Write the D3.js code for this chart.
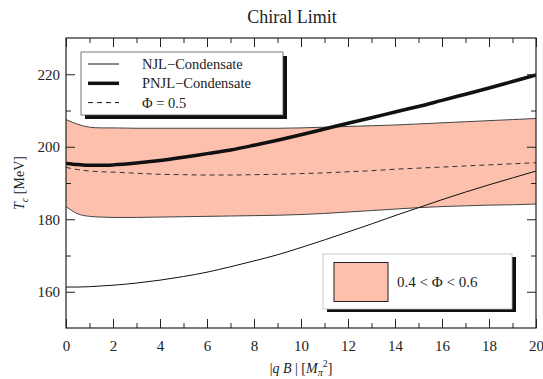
<!DOCTYPE html>
<html>
<head>
<meta charset="utf-8">
<title>Chiral Limit</title>
<script src="https://cdn.jsdelivr.net/npm/d3@7"></script>
<style>
  body { margin: 0; background: #fff; }
  svg text { font-family: "Liberation Serif", "DejaVu Serif", serif !important; fill: #222; }
</style>
</head>
<body>
<div id="chart"></div>
<script>
// |qB| sample points in units of M_pi^2
var qB = [0, 0.5, 1, 1.5, 2, 3, 4, 5, 6, 7, 8, 9, 10, 11, 12, 13, 14, 15, 16, 17, 18, 19, 20];

var njl  = [161.3, 161.3, 161.4, 161.6, 161.8, 162.4, 163.2, 164.2, 165.4, 166.9, 168.5, 170.2, 172.2, 174.3, 176.5, 178.7, 181.0, 183.2, 185.4, 187.5, 189.5, 191.4, 193.3];
var pnjl = [195.4, 195.1, 194.9, 194.9, 195.0, 195.5, 196.2, 197.1, 198.1, 199.1, 200.4, 201.8, 203.3, 204.9, 206.5, 208.0, 209.6, 211.1, 212.8, 214.5, 216.2, 218.0, 219.8];
var phiMid = [194.3, 193.7, 193.3, 193.1, 193.0, 192.7, 192.4, 192.3, 192.2, 192.2, 192.3, 192.4, 192.6, 192.8, 193.1, 193.4, 193.8, 194.1, 194.4, 194.7, 195.0, 195.3, 195.6];
var bandHi = [207.5, 206.2, 205.4, 205.2, 205.2, 205.1, 205.1, 205.1, 205.1, 205.1, 205.1, 205.1, 205.2, 205.4, 205.6, 205.8, 206.0, 206.3, 206.6, 206.9, 207.2, 207.5, 207.8];
var bandLo = [183.5, 181.5, 180.8, 180.6, 180.5, 180.5, 180.6, 180.7, 180.8, 180.9, 181.0, 181.1, 181.3, 181.6, 182.0, 182.4, 182.8, 183.2, 183.5, 183.7, 183.9, 184.0, 184.2];

var xTicks = [0, 2, 4, 6, 8, 10, 12, 14, 16, 18, 20];
var yTicks = [160, 180, 200, 220];

var width = 543, height = 379;
var margin = { top: 38, right: 7, bottom: 51, left: 66 };
var w = width - margin.left - margin.right;
var h = height - margin.top - margin.bottom;
var serif = '"Liberation Serif", "DejaVu Serif", serif';

var svg = d3.select('#chart').append('svg')
    .attr('width', width)
    .attr('height', height)
    .attr('font-family', serif);

var x = d3.scaleLinear().domain([0, 20]).range([0, w]);
var y = d3.scaleLinear().domain([150, 230]).range([h, 0]);

var g = svg.append('g').attr('transform', `translate(${margin.left},${margin.top})`);

g.append('defs').append('clipPath').attr('id', 'clip')
    .append('rect').attr('width', w).attr('height', h);

var plot = g.append('g').attr('clip-path', 'url(#clip)');

var rows = qB.map((q, i) => ({ q: q, njl: njl[i], pnjl: pnjl[i], mid: phiMid[i], hi: bandHi[i], lo: bandLo[i] }));

// shaded band 0.4 < Phi < 0.6
plot.append('path')
    .datum(rows)
    .attr('fill', '#fcc0ad')
    .attr('d', d3.area().curve(d3.curveMonotoneX).x(d => x(d.q)).y0(d => y(d.lo)).y1(d => y(d.hi)));

['hi', 'lo'].forEach(k => {
    plot.append('path')
        .datum(rows)
        .attr('fill', 'none')
        .attr('stroke', '#444')
        .attr('stroke-width', 1)
        .attr('d', d3.line().curve(d3.curveMonotoneX).x(d => x(d.q)).y(d => y(d[k])));
});

plot.append('path')
    .datum(rows)
    .attr('fill', 'none')
    .attr('stroke', '#333')
    .attr('stroke-width', 1)
    .attr('stroke-dasharray', '5,4')
    .attr('d', d3.line().curve(d3.curveMonotoneX).x(d => x(d.q)).y(d => y(d.mid)));

plot.append('path')
    .datum(rows)
    .attr('fill', 'none')
    .attr('stroke', '#111')
    .attr('stroke-width', 1)
    .attr('d', d3.line().curve(d3.curveMonotoneX).x(d => x(d.q)).y(d => y(d.njl)));

plot.append('path')
    .datum(rows)
    .attr('fill', 'none')
    .attr('stroke', '#111')
    .attr('stroke-width', 3.5)
    .attr('d', d3.line().curve(d3.curveMonotoneX).x(d => x(d.q)).y(d => y(d.pnjl)));

// axes: ticks point inward, on all four sides
var xMinor = d3.range(1, 20, 2);
var yMinor = [170, 190, 210];

function styleAxis(sel) {
    sel.attr('font-family', serif);
    sel.select('.domain').remove();
    sel.selectAll('line').attr('stroke', '#222');
    sel.selectAll('text').style('font-size', '15px').attr('fill', '#222');
}

g.append('g').attr('transform', `translate(0,${h})`)
    .call(d3.axisBottom(x).tickValues(xTicks).tickSize(-9).tickPadding(12).tickFormat(d3.format('d')))
    .call(styleAxis);
g.append('g').attr('transform', `translate(0,${h})`)
    .call(d3.axisBottom(x).tickValues(xMinor).tickSize(-5).tickFormat(''))
    .call(styleAxis);
g.append('g')
    .call(d3.axisTop(x).tickValues(xTicks).tickSize(-9).tickFormat(''))
    .call(styleAxis);
g.append('g')
    .call(d3.axisTop(x).tickValues(xMinor).tickSize(-5).tickFormat(''))
    .call(styleAxis);

g.append('g')
    .call(d3.axisLeft(y).tickValues(yTicks).tickSize(-9).tickPadding(6))
    .call(styleAxis);
g.append('g')
    .call(d3.axisLeft(y).tickValues(yMinor).tickSize(-5).tickFormat(''))
    .call(styleAxis);
g.append('g').attr('transform', `translate(${w},0)`)
    .call(d3.axisRight(y).tickValues(yTicks).tickSize(-9).tickFormat(''))
    .call(styleAxis);
g.append('g').attr('transform', `translate(${w},0)`)
    .call(d3.axisRight(y).tickValues(yMinor).tickSize(-5).tickFormat(''))
    .call(styleAxis);

g.append('rect')
    .attr('width', w).attr('height', h)
    .attr('fill', 'none').attr('stroke', '#222').attr('stroke-width', 1.2);

// legend 1 (lines)
var leg = g.append('g').attr('transform', 'translate(15,14)');
leg.append('rect').attr('x', 4).attr('y', 4).attr('width', 202).attr('height', 63).attr('fill', '#111');
leg.append('rect').attr('width', 202).attr('height', 63).attr('fill', '#fff').attr('stroke', '#555').attr('stroke-width', 0.8);
var legItems = [
    { label: 'NJL\u2212Condensate', sw: 1, dash: null },
    { label: 'PNJL\u2212Condensate', sw: 3.5, dash: null },
    { label: '\u03A6 = 0.5', sw: 1, dash: '5,4' }
];
legItems.forEach((d, i) => {
    var yy = 12 + i * 19.3;
    leg.append('line')
        .attr('x1', 7).attr('x2', 38).attr('y1', yy).attr('y2', yy)
        .attr('stroke', '#111').attr('stroke-width', d.sw)
        .attr('stroke-dasharray', d.dash);
    leg.append('text')
        .attr('x', 61).attr('y', yy + 5)
        .style('font-size', '14.5px')
        .text(d.label);
});

// legend 2 (band)
var leg2 = g.append('g').attr('transform', `translate(${323 - margin.left},${254 - margin.top})`);
leg2.append('rect').attr('x', 4).attr('y', 3).attr('width', 189).attr('height', 55).attr('fill', '#111');
leg2.append('rect').attr('width', 189).attr('height', 55).attr('fill', '#fff').attr('stroke', '#bbb').attr('stroke-width', 0.8);
leg2.append('rect').attr('x', 11).attr('y', 8.5).attr('width', 54).attr('height', 39)
    .attr('fill', '#fcc0ad').attr('stroke', '#222').attr('stroke-width', 1);
leg2.append('text').attr('x', 74).attr('y', 33).style('font-size', '15px').text('0.4 < \u03A6 < 0.6');

// title and axis labels
svg.append('text')
    .attr('x', 292).attr('y', 23)
    .attr('text-anchor', 'middle')
    .style('font-size', '18px')
    .text('Chiral Limit');

var yl = svg.append('text')
    .attr('transform', `translate(24,${margin.top + h / 2}) rotate(-90)`)
    .attr('text-anchor', 'middle')
    .style('font-size', '14px');
yl.append('tspan').style('font-style', 'italic').text('T');
yl.append('tspan').style('font-style', 'italic').style('font-size', '10px').attr('dy', 4).text('c');
yl.append('tspan').attr('dy', -4).text(' [MeV]');

var xl = svg.append('text')
    .attr('x', margin.left + w / 2).attr('y', 373)
    .attr('text-anchor', 'middle')
    .style('font-size', '14px');
xl.append('tspan').text('|');
xl.append('tspan').style('font-style', 'italic').text('q B');
xl.append('tspan').text(' | [');
xl.append('tspan').style('font-style', 'italic').text('M');
xl.append('tspan').style('font-style', 'italic').style('font-size', '10px').attr('dy', 3).text('\u03C0');
xl.append('tspan').style('font-size', '10px').attr('dy', -9).text('2');
xl.append('tspan').attr('dy', 6).text(']');
</script>
</body>
</html>
